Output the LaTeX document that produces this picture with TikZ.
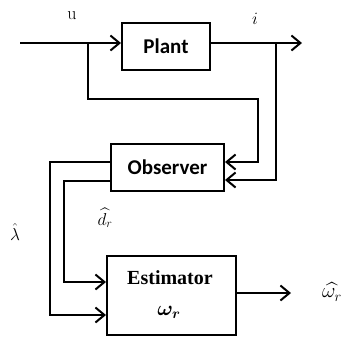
\documentclass[tikz,border=0pt]{standalone}
\usepackage{fontspec}
\usepackage{amsmath}
\usetikzlibrary{arrows.meta}
\newfontfamily\calib{Carlito}
\newfontfamily\timesf{Liberation Serif}
\begin{document}
\begin{tikzpicture}[x=1pt,y=-1pt,
  blk/.style={draw,line width=2pt,inner sep=0pt,anchor=center},
  wire/.style={line width=2pt},
  arr/.style={wire,-{Straight Barb[length=9pt,width=15pt,line width=2pt]}},
  lbl/.style={inner sep=0pt,anchor=center}]
\useasboundingbox (0,0) rectangle (346,338);
\node[blk,minimum width=88pt,minimum height=47pt,font=\calib\bfseries\fontsize{21}{24}\selectfont] (plant) at (166,46.5) {Plant};
\node[blk,minimum width=113pt,minimum height=47pt,font=\calib\bfseries\fontsize{21}{24}\selectfont] (obs) at (167.5,167.5) {Observer};
\node[blk,minimum width=129pt,minimum height=79pt] (est) at (171.5,295.5) {};
\node[lbl,font=\timesf\bfseries\fontsize{20}{22}\selectfont] (esttxt) at (170,278) {Estimator};
\node[lbl,font=\fontsize{20}{22}\selectfont] (estw) at (169,312) {$\boldsymbol{\omega_r}$};
\coordinate (in) at (20,43);
\coordinate (out) at (302,43);
\coordinate (b1) at (88,43);
\coordinate (b2) at (276,43);
\coordinate (c1) at (258,99);
\coordinate (o1) at (obs.east |- 0,162);
\coordinate (o2) at (obs.east |- 0,180);
\coordinate (ol1) at (obs.west |- 0,162);
\coordinate (ol2) at (obs.west |- 0,181);
\coordinate (e1) at (est.west |- 0,282);
\coordinate (e2) at (est.west |- 0,315);
\coordinate (eo) at (291,293);
\draw[arr] (in) -- (plant.west |- in);
\draw[arr] (plant.east |- out) -- (out);
\draw[arr] (b1) |- (c1) |- (o1);
\draw[arr] (b2) |- (o2);
\draw[arr] (ol1) -| (50,315) -- (e2);
\draw[arr] (ol2) -| (64,282) -- (e1);
\draw[arr] (est.east |- eo) -- (eo);
\node[lbl,font=\fontsize{18}{20}\selectfont] (u) at (72,16) {u};
\node[lbl,font=\fontsize{18}{20}\selectfont] (i) at (255,18.5) {$i$};
\node[lbl,font=\fontsize{17}{19}\selectfont] (dr) at (105,218) {$\widehat{d_r}$};
\node[lbl,font=\fontsize{16}{18}\selectfont] (lam) at (15,232) {$\hat{\lambda}$};
\node[lbl,font=\fontsize{22}{24}\selectfont] (wr) at (332,292) {$\widehat{\omega_r}$};
\end{tikzpicture}
\end{document}
